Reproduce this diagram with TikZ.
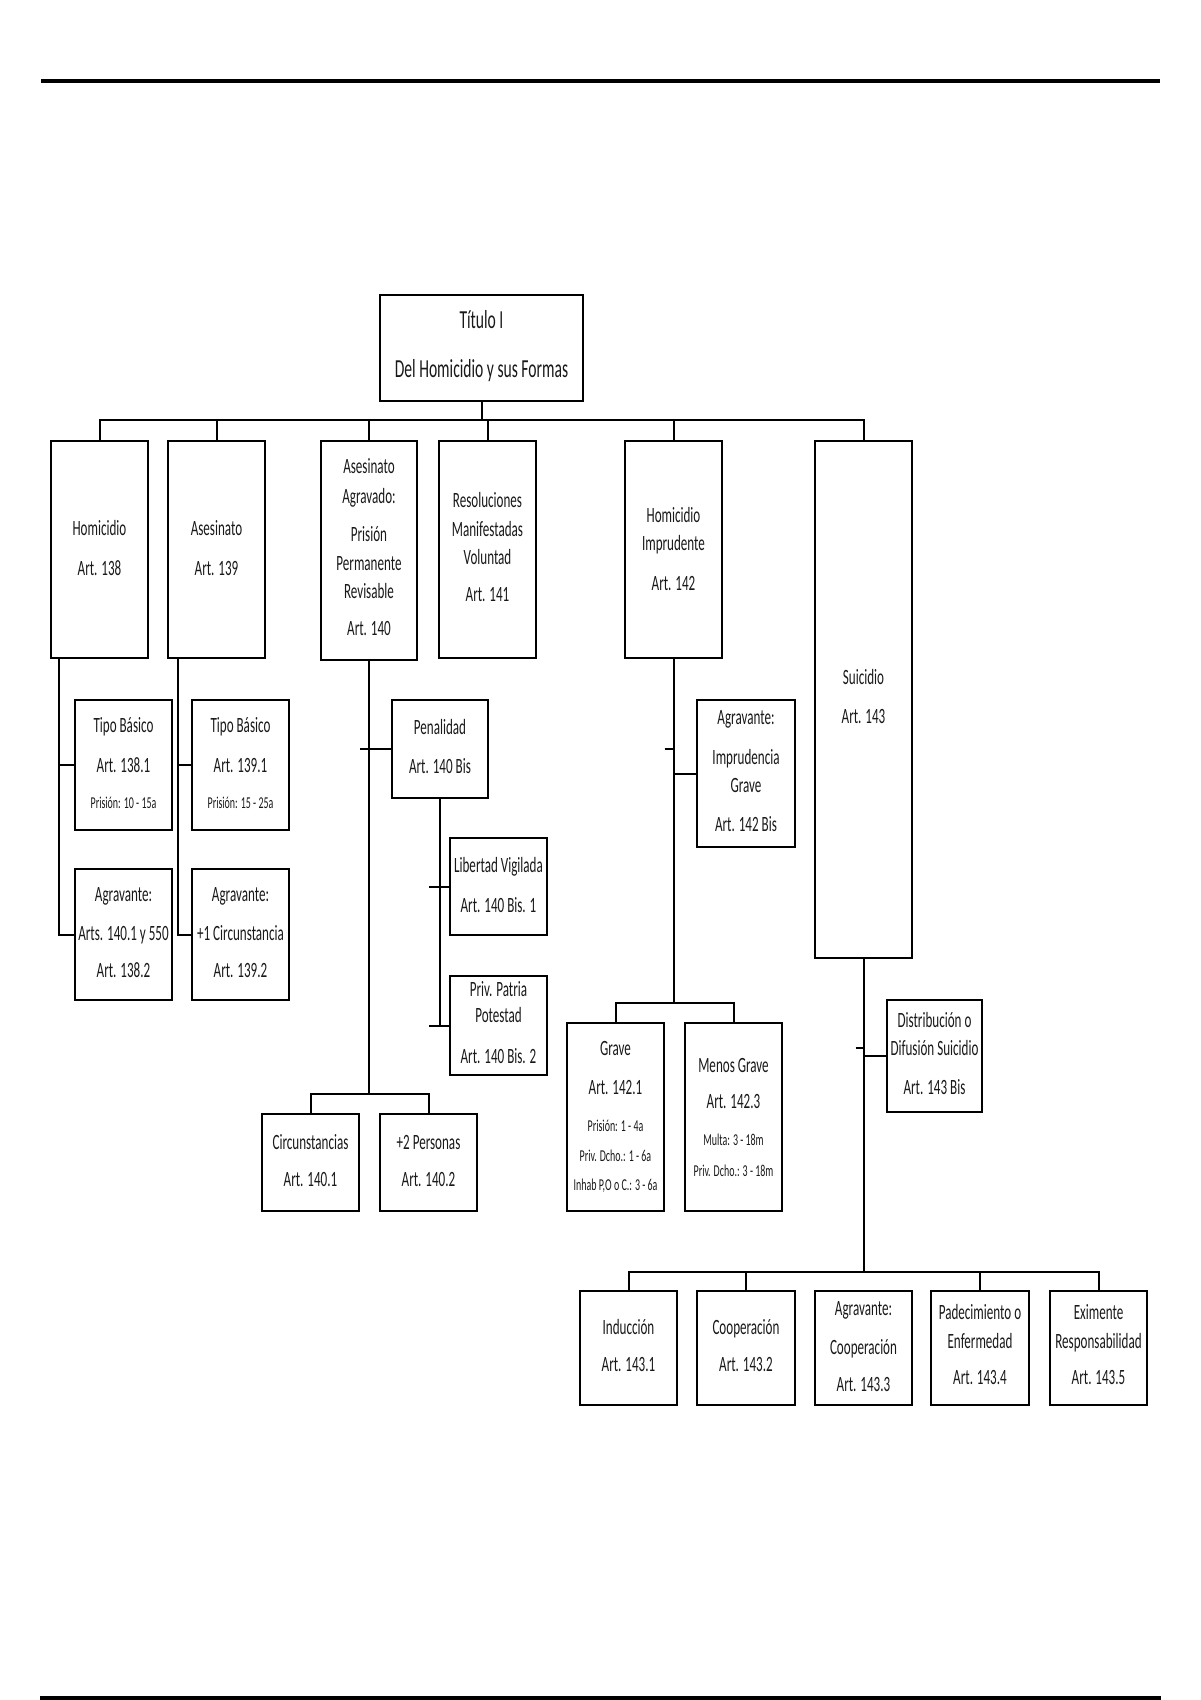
\documentclass[tikz,border=0pt]{standalone}
\usepackage{fontspec}
\setmainfont{Carlito}[FakeStretch=0.6]
\newcommand\bx[5]{\node[box, minimum width={(#4-#2)*0.5pt}, minimum height={(#5-#3)*0.5pt}] (#1) at ({(#2+#4)/2},{(#3+#5)/2}) {};}
\newcommand\tl[5][txt]{\node[#1] (#2) at (#3.center |- 0,#4) {#5};}
\begin{document}
\begin{tikzpicture}[x=0.5pt,y=-0.5pt,
 box/.style={draw, line width=1.25pt, rectangle, inner sep=0pt, outer sep=0pt},
 lnk/.style={line width=1pt},
 txt/.style={inner sep=0pt, text height=0.75em, text depth=0.1em, text=black!90, font=\fontsize{10.9}{12}\selectfont},
 txs/.style={txt, font=\fontsize{8.3}{10}\selectfont},
 txb/.style={txt, font=\fontsize{13}{15}\selectfont},
 rulestyle/.style={line width=1.8pt}]
\useasboundingbox (0,0) rectangle (1200,1700);
\draw[rulestyle] (41,81) -- (1160,81);
\draw[line width=2pt] (40,1698) -- (1161,1698);

% boxes
\bx{tit}{380}{295}{583}{401}
\bx{hom}{51}{441}{148}{658}
\bx{ase}{168}{441}{265}{658}
\bx{aag}{321}{441}{417}{660}
\bx{res}{439}{441}{536}{658}
\bx{him}{625}{441}{722}{658}
\bx{sui}{815}{441}{912}{958}
\bx{tba}{75}{700}{172}{830}
\bx{aga}{75}{869}{172}{1000}
\bx{tbb}{192}{700}{289}{830}
\bx{agb}{192}{869}{289}{1000}
\bx{pen}{392}{700}{488}{798}
\bx{lib}{450}{838}{547}{935}
\bx{ppp}{450}{976}{547}{1075}
\bx{cir}{262}{1114}{359}{1211}
\bx{per}{380}{1114}{477}{1211}
\bx{agh}{697}{700}{795}{847}
\bx{grv}{567}{1023}{664}{1211}
\bx{mgr}{685}{1023}{782}{1211}
\bx{dis}{887}{1000}{982}{1112}
\bx{sa}{580}{1291}{677}{1405}
\bx{sb}{697}{1291}{795}{1405}
\bx{sc}{815}{1291}{912}{1405}
\bx{sd}{931}{1291}{1029}{1405}
\bx{se}{1050}{1291}{1147}{1405}

% texts
\tl[txb]{tit1}{tit}{322}{Título I}
\tl[txb]{tit2}{tit}{371}{Del Homicidio y sus Formas}
\tl{hom1}{hom}{529}{Homicidio}
\tl{hom2}{hom}{569}{Art. 138}
\tl{ase1}{ase}{529}{Asesinato}
\tl{ase2}{ase}{569}{Art. 139}
\tl{aag1}{aag}{467}{Asesinato}
\tl{aag2}{aag}{497}{Agravado:}
\tl{aag3}{aag}{535}{Prisión}
\tl{aag4}{aag}{564}{Permanente}
\tl{aag5}{aag}{592}{Revisable}
\tl{aag6}{aag}{629}{Art. 140}
\tl{res1}{res}{501}{Resoluciones}
\tl{res2}{res}{530}{Manifestadas}
\tl{res3}{res}{558}{Voluntad}
\tl{res4}{res}{595}{Art. 141}
\tl{him1}{him}{516}{Homicidio}
\tl{him2}{him}{544}{Imprudente}
\tl{him3}{him}{584}{Art. 142}
\tl{sui1}{sui}{678}{Suicidio}
\tl{sui2}{sui}{717}{Art. 143}
\tl{tba1}{tba}{726}{Tipo Básico}
\tl{tba2}{tba}{766}{Art. 138.1}
\tl[txs]{tba3}{tba}{802}{Prisión: 10 - 15a}
\tl{aga1}{aga}{895}{Agravante:}
\tl{aga2}{aga}{934}{Arts. 140.1 y 550}
\tl{aga3}{aga}{971}{Art. 138.2}
\tl{tbb1}{tbb}{726}{Tipo Básico}
\tl{tbb2}{tbb}{766}{Art. 139.1}
\tl[txs]{tbb3}{tbb}{802}{Prisión: 15 - 25a}
\tl{agb1}{agb}{895}{Agravante:}
\tl{agb2}{agb}{934}{+1 Circunstancia}
\tl{agb3}{agb}{971}{Art. 139.2}
\tl{pen1}{pen}{728}{Penalidad}
\tl{pen2}{pen}{767}{Art. 140 Bis}
\tl{lib1}{lib}{866}{Libertad Vigilada}
\tl{lib2}{lib}{906}{Art. 140 Bis. 1}
\tl{ppp1}{ppp}{990}{Priv. Patria}
\tl{ppp2}{ppp}{1016}{Potestad}
\tl{ppp3}{ppp}{1057}{Art. 140 Bis. 2}
\tl{cir1}{cir}{1143}{Circunstancias}
\tl{cir2}{cir}{1180}{Art. 140.1}
\tl{per1}{per}{1143}{+2 Personas}
\tl{per2}{per}{1180}{Art. 140.2}
\tl{agh1}{agh}{718}{Agravante:}
\tl{agh2}{agh}{758}{Imprudencia}
\tl{agh3}{agh}{786}{Grave}
\tl{agh4}{agh}{825}{Art. 142 Bis}
\tl{grv1}{grv}{1049}{Grave}
\tl{grv2}{grv}{1088}{Art. 142.1}
\tl[txs]{grv3}{grv}{1125}{Prisión: 1 - 4a}
\tl[txs]{grv4}{grv}{1155}{Priv. Dcho.: 1 - 6a}
\tl[txs]{grv5}{grv}{1184}{Inhab P,O o C.: 3 - 6a}
\tl{mgr1}{mgr}{1066}{Menos Grave}
\tl{mgr2}{mgr}{1102}{Art. 142.3}
\tl[txs]{mgr3}{mgr}{1139}{Multa: 3 - 18m}
\tl[txs]{mgr4}{mgr}{1170}{Priv. Dcho.: 3 - 18m}
\tl{dis1}{dis}{1021}{Distribución o}
\tl{dis2}{dis}{1049}{Difusión Suicidio}
\tl{dis3}{dis}{1088}{Art. 143 Bis}
\tl{sa1}{sa}{1328}{Inducción}
\tl{sa2}{sa}{1365}{Art. 143.1}
\tl{sb1}{sb}{1328}{Cooperación}
\tl{sb2}{sb}{1365}{Art. 143.2}
\tl{sc1}{sc}{1309}{Agravante:}
\tl{sc2}{sc}{1348}{Cooperación}
\tl{sc3}{sc}{1385}{Art. 143.3}
\tl{sd1}{sd}{1313}{Padecimiento o}
\tl{sd2}{sd}{1342}{Enfermedad}
\tl{sd3}{sd}{1378}{Art. 143.4}
\tl{se1}{se}{1313}{Eximente}
\tl{se2}{se}{1342}{Responsabilidad}
\tl{se3}{se}{1378}{Art. 143.5}

% connectors
\coordinate (busa) at (0,420);
\coordinate (busb) at (0,1094);
\coordinate (busc) at (0,1003);
\coordinate (busd) at (0,1272);
\draw[lnk] (tit.south) -- (tit.south |- busa);
\draw[lnk] (hom.north) |- (busa -| sui.north) -- (sui.north);
\foreach \n in {ase,aag,res,him} \draw[lnk] (\n.north) -- (\n.north |- busa);

\coordinate (homv) at ([xshift=4pt]hom.south west);
\draw[lnk] (homv) |- (aga.west);
\draw[lnk] (homv |- tba.west) -- (tba.west);
\coordinate (asev) at ([xshift=5pt]ase.south west);
\draw[lnk] (asev) |- (agb.west);
\draw[lnk] (asev |- tbb.west) -- (tbb.west);

\draw[lnk] (aag.south) -- (aag.south |- busb);
\draw[lnk] (cir.north) |- (busb -| per.north) -- (per.north);
\coordinate (aagx) at ([xshift=-4.5pt]aag.south);
\draw[lnk] (aagx |- pen.west) -- (pen.west);

\draw[lnk] (pen.south) -- (pen.south |- ppp.west);
\coordinate (penx) at ([xshift=-5.5pt]pen.south);
\draw[lnk] (penx |- lib.west) -- (lib.west);
\draw[lnk] (penx |- ppp.west) -- (ppp.west);

\draw[lnk] (him.south) -- (him.south |- busc);
\coordinate (himt) at (0,749);
\coordinate (himx) at ([xshift=-4.5pt]him.south);
\draw[lnk] (himx |- himt) -- (him.south |- himt);
\draw[lnk] (him.south |- agh.west) -- (agh.west);
\draw[lnk] (grv.north) |- (busc -| mgr.north) -- (mgr.north);

\draw[lnk] (sui.south) -- (sui.south |- busd);
\coordinate (suit) at (0,1048);
\coordinate (suix) at ([xshift=-4pt]sui.south);
\draw[lnk] (suix |- suit) -- (sui.south |- suit);
\draw[lnk] (sui.south |- dis.west) -- (dis.west);
\draw[lnk] (sa.north) |- (busd -| se.north) -- (se.north);
\foreach \n in {sb,sd} \draw[lnk] (\n.north) -- (\n.north |- busd);
\end{tikzpicture}
\end{document}
